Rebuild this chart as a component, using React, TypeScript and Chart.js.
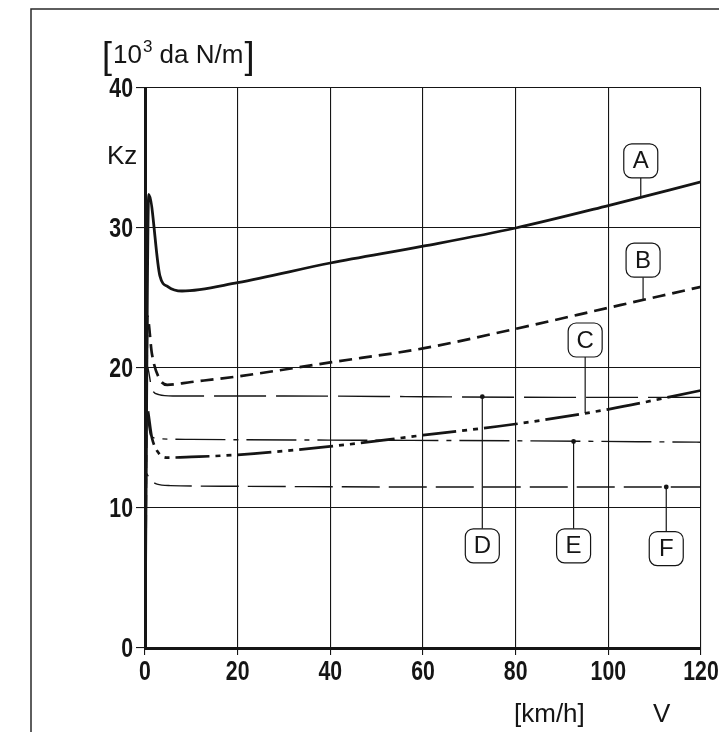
import React, { useEffect, useRef } from "react";
import { Chart, registerables } from "chart.js";

Chart.register(...registerables);

// ---- data ----
const xTicks = [0, 20, 40, 60, 80, 100, 120];
const yTicks = [0, 10, 20, 30, 40];

const speedA = [0, 0.8, 3.2, 5, 8, 20, 40, 60, 80, 100, 120];
const kzA = [0, 32.4, 26.6, 25.8, 25.5, 26.1, 27.5, 28.7, 30.0, 31.6, 33.3];

const speedB = [0, 0.5, 1.5, 3, 4.8, 10, 20, 40, 60, 80, 100, 120];
const kzB = [0, 23.7, 21.0, 19.3, 18.8, 19.0, 19.4, 20.4, 21.4, 22.8, 24.3, 25.8];

const speedC = [0, 0.3, 1.5, 3, 5, 10, 20, 40, 60, 80, 100, 120];
const kzC = [0, 17.3, 15.0, 13.9, 13.6, 13.65, 13.8, 14.4, 15.2, 16.0, 17.05, 18.4];

const speedD = [0, 0.4, 1.5, 3, 6, 30, 60, 90, 120];
const kzD = [0, 20.2, 18.5, 18.1, 18.0, 18.0, 17.95, 17.9, 17.9];

const speedE = [0, 0.3, 1.2, 3, 10, 40, 80, 120];
const kzE = [0, 16.8, 15.2, 14.95, 14.9, 14.85, 14.8, 14.7];

const speedF = [0, 0.2, 1.0, 2.6, 5.5, 20, 60, 120];
const kzF = [0, 12.5, 12.1, 11.7, 11.6, 11.55, 11.5, 11.5];

// curve labels: letter, speed of the leader, Kz of the box centre, Kz where the leader meets the curve, dot
const labelLetters = ["A", "B", "C", "D", "E", "F"];
const labelSpeeds = [107, 107.5, 95, 72.8, 92.5, 112.5];
const labelBoxKz = [34.8, 27.7, 22.0, 7.3, 7.3, 7.1];
const labelCurveKz = [32.2, 24.8, 16.8, 17.95, 14.75, 11.5];
const labelDots = [false, false, false, true, true, true];

const INK = "#151515";
const SANS = '"Liberation Sans", Arial, sans-serif';

function pts(xs: number[], ys: number[]) {
  return xs.map((x, i) => ({ x, y: ys[i] }));
}

function condensed(ctx: CanvasRenderingContext2D, text: string, x: number, y: number) {
  ctx.save();
  ctx.translate(x, y);
  ctx.scale(0.76, 1);
  ctx.fillText(text, 0, 0);
  ctx.restore();
}

const textPlugin = {
  id: "texts",
  beforeDraw(chart: any) {
    const ctx = chart.ctx;
    ctx.save();
    ctx.fillStyle = "#ffffff";
    ctx.fillRect(0, 0, chart.width, chart.height);
    // outer frame
    ctx.strokeStyle = "#2a2a2a";
    ctx.lineWidth = 1.5;
    ctx.beginPath();
    ctx.moveTo(31, 732);
    ctx.lineTo(31, 9);
    ctx.lineTo(719, 9);
    ctx.stroke();
    ctx.restore();
  },
  afterDraw(chart: any) {
    const ctx = chart.ctx;
    const xs = chart.scales.x;
    const ys = chart.scales.y;
    const area = chart.chartArea;
    ctx.save();
    ctx.fillStyle = INK;

    // tick labels (bold condensed)
    ctx.font = `bold 28px ${SANS}`;
    ctx.textBaseline = "middle";
    ctx.textAlign = "right";
    ys.ticks.forEach((t: any) => {
      condensed(ctx, String(t.value), area.left - 12, ys.getPixelForValue(t.value) + 1);
    });
    ctx.textAlign = "center";
    ctx.textBaseline = "top";
    xs.ticks.forEach((t: any) => {
      condensed(ctx, String(t.value), xs.getPixelForValue(t.value), area.bottom + 10);
    });

    ctx.textBaseline = "alphabetic";
    ctx.textAlign = "left";
    const f = (s: number) => `${s}px ${SANS}`;
    // unit title
    let x = 102;
    const base = 63;
    ctx.font = f(36);
    ctx.fillText("[", x, base + 5);
    x += ctx.measureText("[").width + 1;
    ctx.font = f(26);
    ctx.fillText("10", x, base);
    x += ctx.measureText("10").width + 1;
    ctx.font = f(17);
    ctx.fillText("3", x, base - 11);
    x += ctx.measureText("3").width;
    ctx.font = f(26);
    ctx.fillText(" da N/m", x, base);
    x += ctx.measureText(" da N/m").width + 1;
    ctx.font = f(36);
    ctx.fillText("]", x, base + 5);
    // Kz
    ctx.font = f(26);
    ctx.fillText("Kz", 107, 164);
    // x title
    ctx.fillText("[km/h]", 514, 722);
    ctx.fillText("V", 653, 722);

    // curve labels
    for (let i = 0; i < labelLetters.length; i++) {
      const px = xs.getPixelForValue(labelSpeeds[i]);
      const by = ys.getPixelForValue(labelBoxKz[i]);
      const ly = ys.getPixelForValue(labelCurveKz[i]);
      const w = 34;
      const h = 34;
      const edge = ly > by ? by + h / 2 : by - h / 2;
      ctx.strokeStyle = INK;
      ctx.lineWidth = 1.2;
      ctx.beginPath();
      ctx.moveTo(px, edge);
      ctx.lineTo(px, ly);
      ctx.stroke();
      if (labelDots[i]) {
        ctx.beginPath();
        ctx.arc(px, ly, 2.4, 0, Math.PI * 2);
        ctx.fill();
      }
      ctx.beginPath();
      (ctx as any).roundRect(px - w / 2, by - h / 2, w, h, 8);
      ctx.fillStyle = "#ffffff";
      ctx.fill();
      ctx.stroke();
      ctx.fillStyle = INK;
      ctx.font = f(24);
      ctx.textAlign = "center";
      ctx.textBaseline = "middle";
      ctx.fillText(labelLetters[i], px, by + 1);
      ctx.textAlign = "left";
      ctx.textBaseline = "alphabetic";
    }
    ctx.restore();
  },
};

export default function App() {
  const ref = useRef<HTMLCanvasElement | null>(null);
  useEffect(() => {
    if (!ref.current) return;
    const common = {
      pointRadius: 0,
      borderColor: INK,
      fill: false,
      cubicInterpolationMode: "monotone" as const,
    };
    const chart = new Chart(ref.current, {
      type: "line",
      data: {
        datasets: [
          { ...common, label: "A", data: pts(speedA, kzA), borderWidth: 2.8 },
          { ...common, label: "B", data: pts(speedB, kzB), borderWidth: 2.7, borderDash: [13, 7] },
          { ...common, label: "C", data: pts(speedC, kzC), borderWidth: 2.7, borderDash: [34, 6, 5, 6, 5, 6] },
          { ...common, label: "D", data: pts(speedD, kzD), borderWidth: 1.4, borderDash: [52, 10] },
          { ...common, label: "E", data: pts(speedE, kzE), borderWidth: 1.4, borderDash: [50, 8, 5, 8] },
          { ...common, label: "F", data: pts(speedF, kzF), borderWidth: 1.4, borderDash: [38, 9] },
        ],
      },
      options: {
        responsive: false,
        animation: false,
        events: [],
        layout: { padding: { left: 0, top: 88, right: 18, bottom: 0 } },
        plugins: { legend: { display: false }, tooltip: { enabled: false }, title: { display: false } },
        scales: {
          x: {
            type: "linear",
            min: 0,
            max: 120,
            afterBuildTicks: (s: any) => {
              s.ticks = xTicks.map((v) => ({ value: v }));
            },
            afterFit: (s: any) => {
              s.height = 84;
            },
            ticks: { display: false },
            grid: { color: INK, lineWidth: 1.1, tickLength: 7, drawTicks: true },
            border: { color: INK, width: 3 },
          },
          y: {
            type: "linear",
            min: 0,
            max: 40,
            afterBuildTicks: (s: any) => {
              s.ticks = yTicks.map((v) => ({ value: v }));
            },
            afterFit: (s: any) => {
              s.width = 145;
            },
            ticks: { display: false },
            grid: { color: INK, lineWidth: 1.1, tickLength: 9, drawTicks: true },
            border: { color: INK, width: 3 },
          },
        },
      },
      plugins: [textPlugin],
    });
    return () => chart.destroy();
  }, []);
  return (
    <div style={{ position: "absolute", left: 0, top: 0, width: 719, height: 732, background: "#fff" }}>
      <canvas ref={ref} width={719} height={732} style={{ display: "block" }} />
    </div>
  );
}
